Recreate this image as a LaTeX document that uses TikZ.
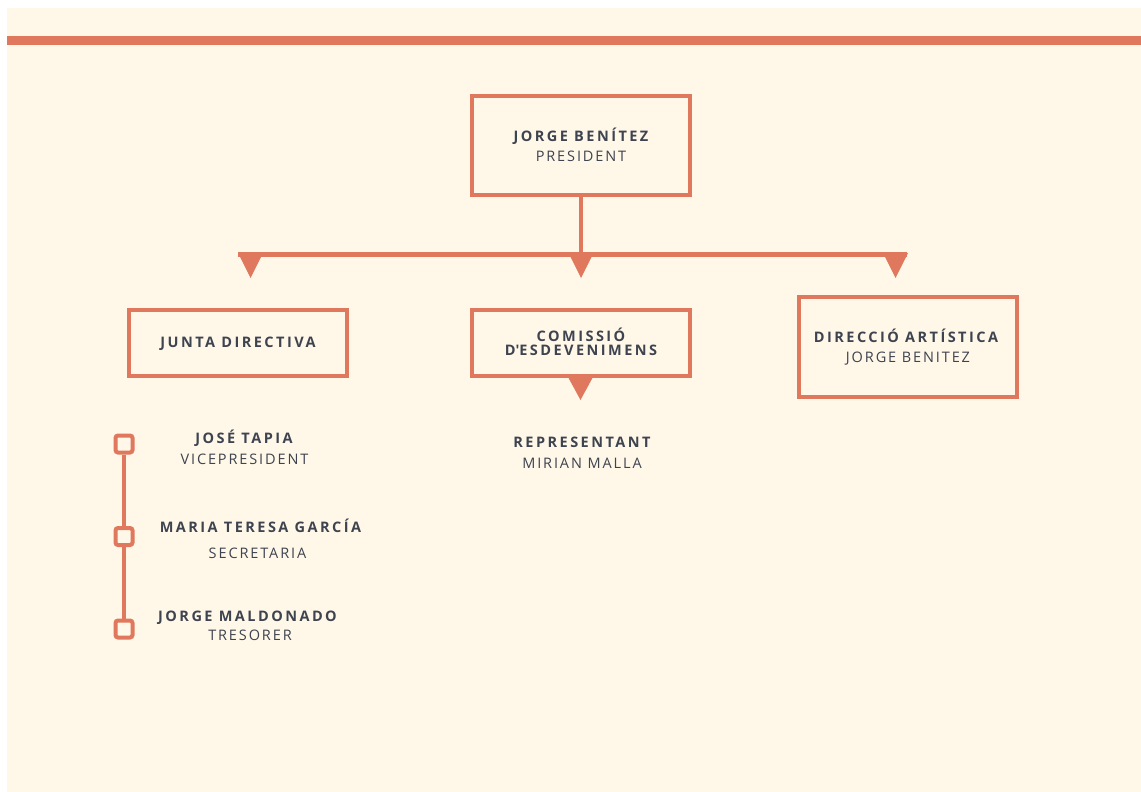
\documentclass[tikz,border=0pt]{standalone}
\usepackage{fontspec}
\setmainfont{Open Sans}
\newfontfamily\hfont[LetterSpace=17]{Open Sans}
\newfontfamily\sfont[LetterSpace=13]{Open Sans}
\definecolor{accent}{RGB}{224,120,93}
\definecolor{cream}{RGB}{255,248,232}
\definecolor{ink}{RGB}{62,67,80}
\tikzset{
  box/.style={draw=accent, line width=4pt, minimum width=218pt, inner sep=0pt},
  hd/.style={text=ink, font=\hfont\bfseries\fontsize{14.5}{16}\selectfont, inner sep=0pt, text height=10.3pt, text depth=0pt},
  sub/.style={text=ink, font=\sfont\fontsize{14.5}{16}\selectfont, inner sep=0pt, text height=10.3pt, text depth=0pt},
  link/.style={draw=accent, line width=4pt},
  tri/.style={fill=accent},
  sq/.style={draw=accent, line width=4pt, fill=cream, rounded corners=2.5pt, minimum size=17pt, inner sep=0pt}
}
\begin{document}
\begin{tikzpicture}[x=1pt,y=-1pt]
\useasboundingbox (0,0) rectangle (1141,792);
\fill[white] (0,0) rectangle (1141,792);
\fill[cream] (7,8) rectangle (1141,792);
\fill[accent] (7,36) rectangle (1141,45.5);

% president
\node[box, minimum height=99pt] (pres) at (581,145.5) {};
\node[hd] (presname) at (581,136) {JORGE BENÍTEZ};
\node[sub] (presrole) at (581,156) {PRESIDENT};

% bus
\coordinate (busL) at (238,254);
\coordinate (busM) at (581,254);
\coordinate (busR) at (907,254);
\draw[accent, line width=5pt] (busL) -- (busR);
\draw[link] (pres.south) -- (busM);
\coordinate (t1) at (250.5,253);
\coordinate (t3) at (895.5,253);
\fill[tri] (t1) ++(-12.5,0) -- ++(25,0) -- ++(-12.5,25) -- cycle;
\fill[tri] (busM) ++(-12.5,-1) -- ++(25,0) -- ++(-12.5,25) -- cycle;
\fill[tri] (t3) ++(-12.5,0) -- ++(25,0) -- ++(-12.5,25) -- cycle;

% junta
\node[box, minimum height=66pt] (junta) at (238,343) {};
\node[hd] (juntat) at (238,342) {JUNTA DIRECTIVA};

% comissio
\node[box, minimum height=66pt] (comis) at (580.5,343) {};
\node[hd] (comis1) at (581,336) {COMISSIÓ};
\node[hd] (comis2) at (581,350) {D\textquotesingle ESDEVENIMENS};
\fill[tri] (comis.south) ++(-12.5,-1) -- ++(25,0) -- ++(-12.5,23) -- cycle;
\node[hd] (repr) at (582,442) {REPRESENTANT};
\node[sub] (reprn) at (582,463) {MIRIAN MALLA};

% direccio
\node[box, minimum height=100pt] (dir) at (908,347) {};
\node[hd] (dir1) at (906,337) {DIRECCIÓ ARTÍSTICA};
\node[sub] (dir2) at (908,357) {JORGE BENITEZ};

% timeline
\node[sq] (s1) at (124,444) {};
\node[sq] (s2) at (124,536.5) {};
\node[sq] (s3) at (124,629) {};
\draw[link] (s1.south) -- (s2.north);
\draw[link] (s2.south) -- (s3.north);

\node[hd] (m1) at (244,438) {JOSÉ TAPIA};
\node[sub] (m1r) at (244.5,459) {VICEPRESIDENT};
\node[hd] (m2) at (260.5,527) {MARIA TERESA GARCÍA};
\node[sub] (m2r) at (257.5,553) {SECRETARIA};
\node[hd] (m3) at (247.5,616.5) {JORGE MALDONADO};
\node[sub] (m3r) at (250,635.5) {TRESORER};
\end{tikzpicture}
\end{document}
